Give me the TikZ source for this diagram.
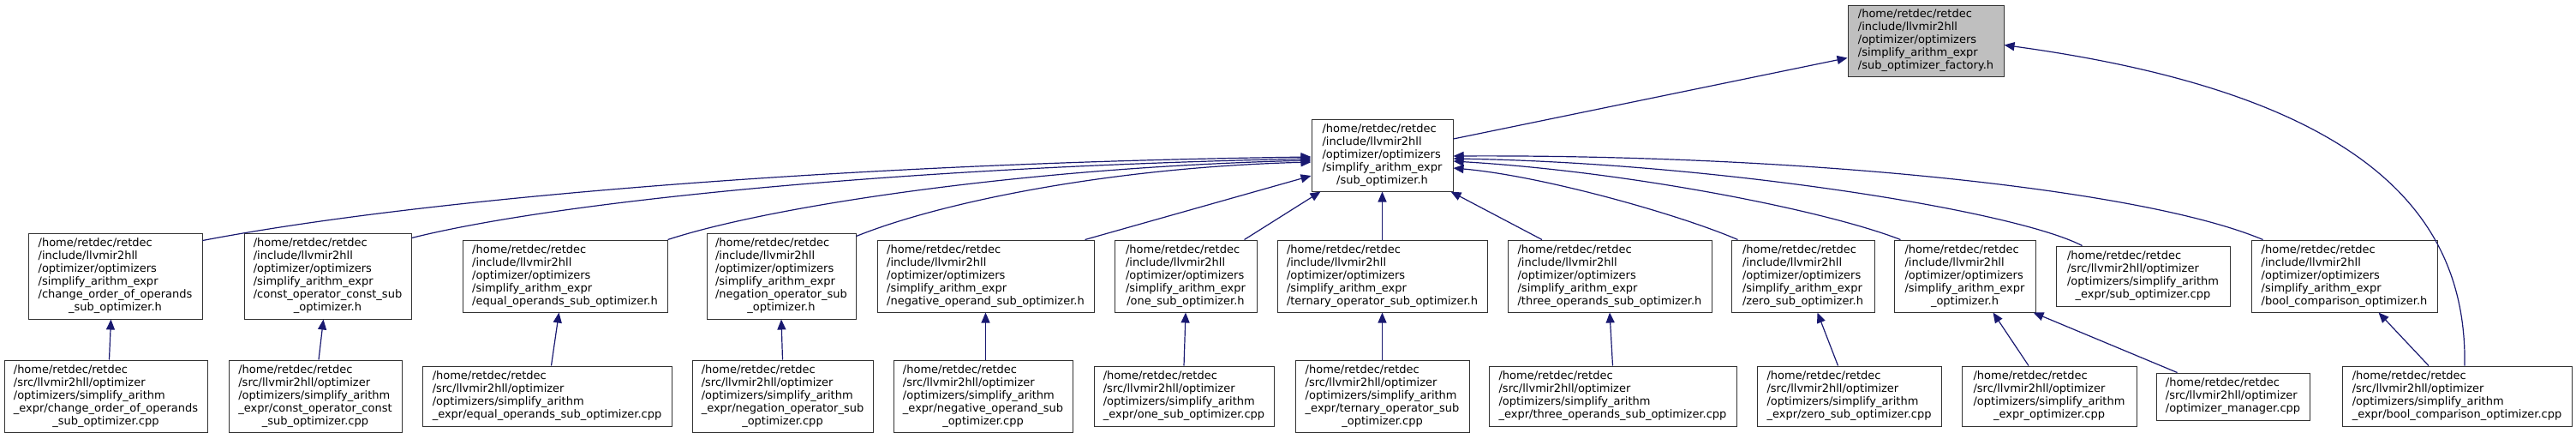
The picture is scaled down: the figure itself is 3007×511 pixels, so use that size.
\documentclass[tikz,border=0pt]{standalone}
\usepackage{fontspec}
\setmainfont{DejaVu Sans}
\usetikzlibrary{arrows.meta,calc}
\definecolor{mblue}{HTML}{191970}
\definecolor{grayfill}{HTML}{BFBFBF}
\newcommand{\lbl}[2]{\begin{tabular}{@{}l@{}}#1\\\multicolumn{1}{@{}c@{}}{#2}\end{tabular}}
\newcommand{\hinc}{/home/retdec/retdec\\/include/llvmir2hll\\/optimizer/optimizers\\/simplify\_arithm\_expr}
\newcommand{\hsrc}{/home/retdec/retdec\\/src/llvmir2hll/optimizer\\/optimizers/simplify\_arithm}
\tikzset{
  box/.style={draw=black!80, line width=0.5pt, fill=white, inner sep=0pt,
    font=\fontsize{6.5}{7.5}\selectfont},
  bx/.style 2 args={box, minimum width=#1*0.5pt, minimum height=#2*0.5pt},
  dep/.style={draw=mblue, line width=0.6pt, -{Triangle[length=6pt,width=5pt]}}
}
\begin{document}
\begin{tikzpicture}[x=0.5pt,y=-0.5pt]
\useasboundingbox (0,0) rectangle (3007,511);
% top
\node[bx={182}{83}, fill=grayfill] (F) at (2248,47.5) {\lbl{\hinc}{/sub\_optimizer\_factory.h}};
\node[bx={165}{84}] (S) at (1613.5,181) {\lbl{\hinc}{/sub\_optimizer.h}};
% middle row
\node[bx={203}{100}] (B1) at (134.5,322) {\lbl{\hinc\\/change\_order\_of\_operands}{\_sub\_optimizer.h}};
\node[bx={195}{100}] (B2) at (382.5,322) {\lbl{\hinc\\/const\_operator\_const\_sub}{\_optimizer.h}};
\node[bx={239}{84}] (B3) at (659.5,322) {\lbl{\hinc}{/equal\_operands\_sub\_optimizer.h}};
\node[bx={174}{100}] (B4) at (912,322) {\lbl{\hinc\\/negation\_operator\_sub}{\_optimizer.h}};
\node[bx={253}{84}] (B5) at (1150.5,322) {\lbl{\hinc}{/negative\_operand\_sub\_optimizer.h}};
\node[bx={166}{84}] (B6) at (1384,322) {\lbl{\hinc}{/one\_sub\_optimizer.h}};
\node[bx={245}{84}] (B7) at (1613.5,322) {\lbl{\hinc}{/ternary\_operator\_sub\_optimizer.h}};
\node[bx={238}{84}] (B8) at (1879,322) {\lbl{\hinc}{/three\_operands\_sub\_optimizer.h}};
\node[bx={167}{84}] (B9) at (2104.5,322) {\lbl{\hinc}{/zero\_sub\_optimizer.h}};
\node[bx={165}{84}] (B10) at (2293.5,322) {\lbl{\hinc}{\_optimizer.h}};
\node[bx={203}{70}] (B11) at (2501.5,322) {\lbl{\hsrc}{\_expr/sub\_optimizer.cpp}};
\node[bx={217}{84}] (B12) at (2736.5,322) {\lbl{\hinc}{/bool\_comparison\_optimizer.h}};
% bottom row
\node[bx={237}{84}] (C1) at (123.5,462) {\lbl{\hsrc\\\_expr/change\_order\_of\_operands}{\_sub\_optimizer.cpp}};
\node[bx={202}{84}] (C2) at (368,462) {\lbl{\hsrc\\\_expr/const\_operator\_const}{\_sub\_optimizer.cpp}};
\node[bx={291}{70}] (C3) at (638.5,462) {\lbl{\hsrc}{\_expr/equal\_operands\_sub\_optimizer.cpp}};
\node[bx={211}{84}] (C4) at (913.5,462) {\lbl{\hsrc\\\_expr/negation\_operator\_sub}{\_optimizer.cpp}};
\node[bx={209}{84}] (C5) at (1147.5,462) {\lbl{\hsrc\\\_expr/negative\_operand\_sub}{\_optimizer.cpp}};
\node[bx={210}{70}] (C6) at (1382,462) {\lbl{\hsrc}{\_expr/one\_sub\_optimizer.cpp}};
\node[bx={203}{84}] (C7) at (1613.5,462) {\lbl{\hsrc\\\_expr/ternary\_operator\_sub}{\_optimizer.cpp}};
\node[bx={289}{70}] (C8) at (1882.5,462) {\lbl{\hsrc}{\_expr/three\_operands\_sub\_optimizer.cpp}};
\node[bx={215}{70}] (C9) at (2158.5,462) {\lbl{\hsrc}{\_expr/zero\_sub\_optimizer.cpp}};
\node[bx={204}{70}] (C10) at (2392,462) {\lbl{\hsrc}{\_expr\_optimizer.cpp}};
\node[bx={179}{55}] (C11) at (2606.5,462.5) {\lbl{/home/retdec/retdec\\/src/llvmir2hll/optimizer}{/optimizer\_manager.cpp}};
\node[bx={268}{70}] (C12) at (2868,462) {\lbl{\hsrc}{\_expr/bool\_comparison\_optimizer.cpp}};
% bottom -> middle
\draw[dep] ($(C1.north)+(4,0)$) -- ($(B1.south)+(-5,0)$);
\draw[dep] ($(C2.north)+(4,0)$) -- ($(B2.south)+(-5,0)$);
\draw[dep] ($(C3.north)+(5,0)$) -- ($(B3.south)+(-7,0)$);
\draw[dep] (C4.north) -- (B4.south);
\draw[dep] ($(C5.north)+(3,0)$) -- (B5.south);
\draw[dep] (C6.north) -- (B6.south);
\draw[dep] (C7.north) -- (B7.south);
\draw[dep] (C8.north) -- (B8.south);
\draw[dep] ($(C9.north)+(-13,0)$) -- ($(B9.south)+(17,0)$);
\draw[dep] ($(C10.north)+(-24,0)$) -- ($(B10.south)+(33,0)$);
\draw[dep] ($(C11.north)+(-65,0)$) -- ($(B10.south east)+(-3,0)$);
\draw[dep] ($(C12.north)+(-33,0)$) -- ($(B12.south)+(40,0)$);
\draw[dep] ($(C12.north)+(9,0)$) .. controls (2880,250) and (2760,110) .. ($(F.east)+(0,5)$);
% middle -> S
\draw[dep] ($(B1.north east)+(0,9)$) .. controls (500,230) and (1000,190) .. ($(S.west)+(0,2)$);
\draw[dep] ($(B2.north east)+(0,6)$) .. controls (650,235) and (1050,195) .. ($(S.west)+(0,4)$);
\draw[dep] (B3.north east) .. controls (900,240) and (1200,195) .. ($(S.west)+(0,6)$);
\draw[dep] ($(B4.north east)+(0,4)$) .. controls (1100,235) and (1300,195) .. ($(S.west)+(0,8)$);
\draw[dep] ($(B5.north east)+(-11,0)$) -- ($(S.west)+(0,24)$);
\draw[dep] ($(B6.north east)+(-15,0)$) -- ($(S.south west)+(11,0)$);
\draw[dep] (B7.north) -- (S.south);
\draw[dep] ($(B8.north)+(-79,0)$) -- ($(S.south east)+(-3,0)$);
\draw[dep] ($(B9.north)+(-76,0)$) .. controls (1960,250) and (1800,205) .. ($(S.east)+(0,15)$);
\draw[dep] ($(B10.north west)+(8,0)$) .. controls (2130,245) and (1900,200) .. ($(S.east)+(0,7)$);
\draw[dep] ($(B11.north west)+(31,0)$) .. controls (2350,245) and (2000,190) .. ($(S.east)+(0,4)$);
\draw[dep] ($(B12.north west)+(14,0)$) .. controls (2500,220) and (2100,180) .. ($(S.east)+(0,1)$);
% S -> F
\draw[dep] ($(S.east)+(0,-19)$) -- ($(F.west)+(0,20)$);
\end{tikzpicture}
\end{document}
